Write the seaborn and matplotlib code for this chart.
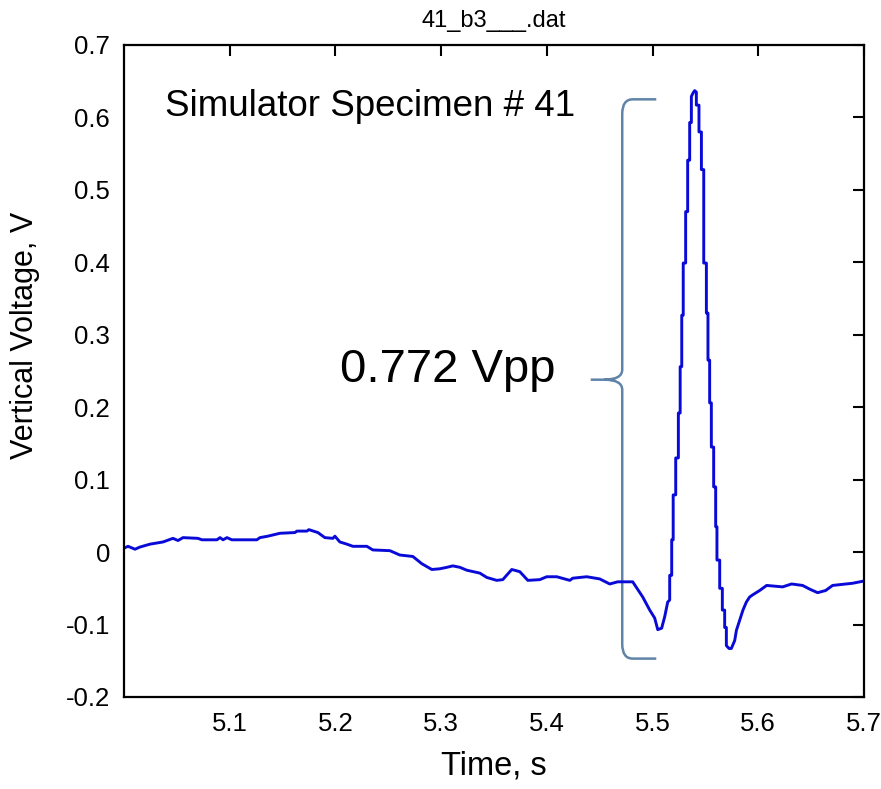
import numpy as np
import pandas as pd
import matplotlib
matplotlib.use("Agg")
import matplotlib.pyplot as plt
from matplotlib.path import Path
from matplotlib.patches import PathPatch
import seaborn as sns

# ---------------- data ----------------
time_s = [
    5.0000, 5.0038, 5.0104, 5.0151, 5.0246, 5.0369, 5.0463, 5.0511, 5.0558, 5.0700,
    5.0737, 5.0879, 5.0908, 5.0937, 5.0974, 5.1020, 5.1257, 5.1286, 5.1361, 5.1475,
    5.1617, 5.1636, 5.1730, 5.1749, 5.1834, 5.1900, 5.1976, 5.1995, 5.2042, 5.2108,
    5.2165, 5.2297, 5.2354, 5.2515, 5.2609, 5.2732, 5.2817, 5.2912, 5.2988, 5.3054,
    5.3111, 5.3177, 5.3243, 5.3366, 5.3432, 5.3526, 5.3583, 5.3668, 5.3744, 5.3820,
    5.3933, 5.3999, 5.4094, 5.4217, 5.4245, 5.4377, 5.4500, 5.4595, 5.4670, 5.4812,
    5.4907, 5.4973, 5.5020, 5.5049, 5.5086, 5.5115, 5.5143, 5.5162,
    5.5162, 5.5181, 5.5181, 5.5195, 5.5195, 5.5219, 5.5219, 5.5244, 5.5244, 5.5261,
    5.5261, 5.5276, 5.5276, 5.5290, 5.5290, 5.5313, 5.5313, 5.5332, 5.5332, 5.5351,
    5.5351, 5.5367, 5.5367, 5.5384, 5.5398, 5.5414, 5.5414, 5.5439, 5.5439, 5.5462,
    5.5462, 5.5484, 5.5484, 5.5509, 5.5509, 5.5524, 5.5524, 5.5540, 5.5540, 5.5556,
    5.5556, 5.5578, 5.5578, 5.5597, 5.5597, 5.5609, 5.5609, 5.5635, 5.5635, 5.5660,
    5.5660, 5.5682, 5.5682, 5.5698, 5.5698, 5.5723, 5.5745, 5.5777, 5.5793, 5.5824,
    5.5855, 5.5887, 5.5918, 5.5947, 5.6013, 5.6079, 5.6230, 5.6315, 5.6419, 5.6485,
    5.6561, 5.6637, 5.6703, 5.6892, 5.6996,
]
voltage_v = [
    0.0055, 0.008, 0.004, 0.007, 0.011, 0.014, 0.019, 0.016, 0.020, 0.019,
    0.017, 0.017, 0.020, 0.017, 0.020, 0.017, 0.017, 0.020, 0.022, 0.026,
    0.027, 0.029, 0.029, 0.031, 0.027, 0.020, 0.019, 0.022, 0.014, 0.011,
    0.008, 0.008, 0.003, 0.002, -0.004, -0.006, -0.016, -0.024, -0.023, -0.021,
    -0.019, -0.021, -0.025, -0.029, -0.035, -0.039, -0.038, -0.024, -0.027, -0.039,
    -0.038, -0.034, -0.034, -0.039, -0.036, -0.034, -0.037, -0.044, -0.041, -0.041,
    -0.062, -0.080, -0.091, -0.107, -0.105, -0.089, -0.069, -0.066,
    -0.032, -0.032, 0.017, 0.017, 0.079, 0.079, 0.130, 0.130, 0.192, 0.192,
    0.256, 0.256, 0.327, 0.327, 0.399, 0.399, 0.470, 0.470, 0.541, 0.541,
    0.593, 0.593, 0.629, 0.634, 0.637, 0.635, 0.617, 0.617, 0.580, 0.580,
    0.528, 0.528, 0.399, 0.399, 0.330, 0.330, 0.265, 0.265, 0.206, 0.206,
    0.145, 0.145, 0.090, 0.090, 0.035, 0.035, -0.011, -0.011, -0.050, -0.050,
    -0.080, -0.080, -0.104, -0.104, -0.129, -0.133, -0.133, -0.122, -0.108, -0.094,
    -0.080, -0.069, -0.062, -0.059, -0.053, -0.046, -0.048, -0.044, -0.046, -0.051,
    -0.056, -0.053, -0.046, -0.043, -0.040,
]

x_ticks = [5.1, 5.2, 5.3, 5.4, 5.5, 5.6, 5.7]
x_tick_labels = ["5.1", "5.2", "5.3", "5.4", "5.5", "5.6", "5.7"]
y_ticks = [-0.2, -0.1, 0, 0.1, 0.2, 0.3, 0.4, 0.5, 0.6, 0.7]
y_tick_labels = ["-0.2", "-0.1", "0", "0.1", "0.2", "0.3", "0.4", "0.5", "0.6", "0.7"]

title_text = "41_b3___.dat"
x_label = "Time, s"
y_label = "Vertical Voltage, V"
specimen_text = "Simulator Specimen # 41"
vpp_text = "0.772 Vpp"

# brace annotation (data units)
brace_x = 5.4713
brace_top = 0.625
brace_bottom = -0.147
brace_mid = 0.238
brace_arm_end = 5.5035
brace_tip = 5.4415

# ---------------- style ----------------
sns.set_theme(style="white")
plt.rcParams["font.family"] = ["Liberation Sans", "DejaVu Sans"]
plt.rcParams["text.color"] = "black"
plt.rcParams["axes.labelcolor"] = "black"
plt.rcParams["xtick.color"] = "black"
plt.rcParams["ytick.color"] = "black"

fig = plt.figure(figsize=(8.81, 7.89), dpi=100)
ax = fig.add_axes([124 / 881, 1 - 697 / 789, (864 - 124) / 881, (697 - 45) / 789])

df = pd.DataFrame({"time": time_s, "volt": voltage_v})
sns.lineplot(data=df, x="time", y="volt", sort=False, estimator=None,
             color="#0a0ad8", linewidth=2.1, ax=ax)

ax.set_xlim(5.0, 5.7)
ax.set_ylim(-0.2, 0.7)
ax.set_xticks(x_ticks)
ax.set_xticklabels(x_tick_labels)
ax.set_yticks(y_ticks)
ax.set_yticklabels(y_tick_labels)
ax.tick_params(direction="in", length=8, width=1.5, top=True, right=True,
               labelsize=18.5, colors="black", pad=10)
ax.tick_params(axis="x", pad=11)
for s in ax.spines.values():
    s.set_color("black")
    s.set_linewidth(1.6)

ax.set_title(title_text, fontsize=17, pad=13, color="black")
ax.set_xlabel(x_label, fontsize=23.5, labelpad=10)
ax.set_ylabel(y_label, fontsize=22)
ax.yaxis.set_label_coords(-0.113, 0.554)

ax.text(5.039, 0.602, specimen_text, fontsize=26.5, va="baseline", ha="left",
        color="black")
ax.text(5.3063, 0.235, vpp_text, fontsize=34, va="baseline", ha="center",
        color="black")

# curly brace
dx, dy = 0.010, 0.02
mdx, mdy = 0.017, 0.014
verts = [
    (brace_arm_end, brace_top), (brace_x + dx, brace_top),
    (brace_x, brace_top), (brace_x, brace_top - dy),
    (brace_x, brace_mid + mdy),
    (brace_x, brace_mid), (brace_x - mdx, brace_mid),
    (brace_tip, brace_mid),
    (brace_x - mdx, brace_mid), (brace_x, brace_mid), (brace_x, brace_mid - mdy),
    (brace_x, brace_bottom + dy),
    (brace_x, brace_bottom), (brace_x + dx, brace_bottom),
    (brace_arm_end, brace_bottom),
]
codes = [
    Path.MOVETO, Path.LINETO,
    Path.CURVE3, Path.CURVE3,
    Path.LINETO,
    Path.CURVE3, Path.CURVE3,
    Path.LINETO,
    Path.MOVETO, Path.CURVE3, Path.CURVE3,
    Path.LINETO,
    Path.CURVE3, Path.CURVE3,
    Path.LINETO,
]
ax.add_patch(PathPatch(Path(verts, codes), facecolor="none",
                       edgecolor="#5f84a8", linewidth=1.8))

fig.savefig("out.png", dpi=100)
